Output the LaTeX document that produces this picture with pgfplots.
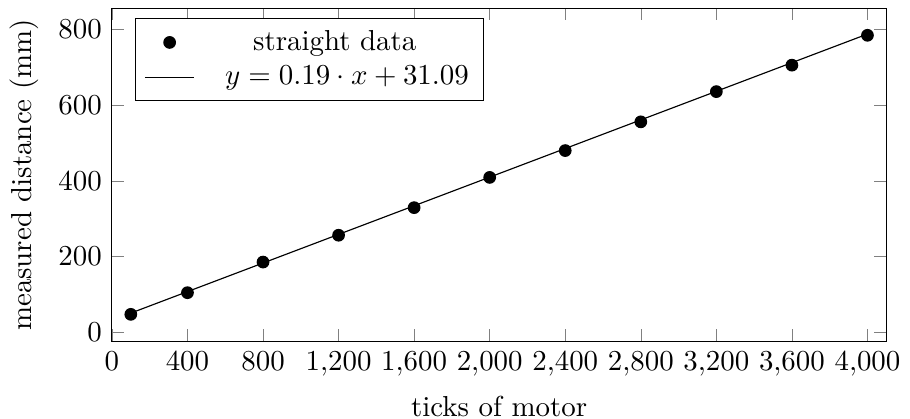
\documentclass[border=0pt]{standalone}
\usepackage{pgfplots}
\pgfplotsset{compat=1.18}
\begin{document}
\begin{tikzpicture}
\begin{axis}[
  scale only axis,
  width=268pt, height=115.5pt,
  xmin=0, xmax=4100,
  ymin=-26, ymax=857,
  xtick={0,400,800,1200,1600,2000,2400,2800,3200,3600,4000},
  ytick={0,200,400,600,800},
  xlabel={ticks of motor},
  ylabel={measured distance (mm)},
  legend pos=north west,
  legend cell align=center,
]
\addplot[only marks, mark=*, black, mark size=2pt] coordinates {
  (100,46.7) (400,104) (800,185) (1200,256) (1600,329) (2000,409)
  (2400,480) (2800,556) (3200,636) (3600,706) (4000,785)
};
\addlegendentry{straight data}
\addplot[black, no marks] coordinates {(100,50.0) (4000,788.3)};
\addlegendentry{\hspace*{8.5pt}$y = 0.19 \cdot x + 31.09$}
\end{axis}
\pgfresetboundingbox
\path ([yshift=2.6pt]current axis.outer south west) rectangle ([yshift=2.6pt]current axis.outer north east);
\end{tikzpicture}
\end{document}
